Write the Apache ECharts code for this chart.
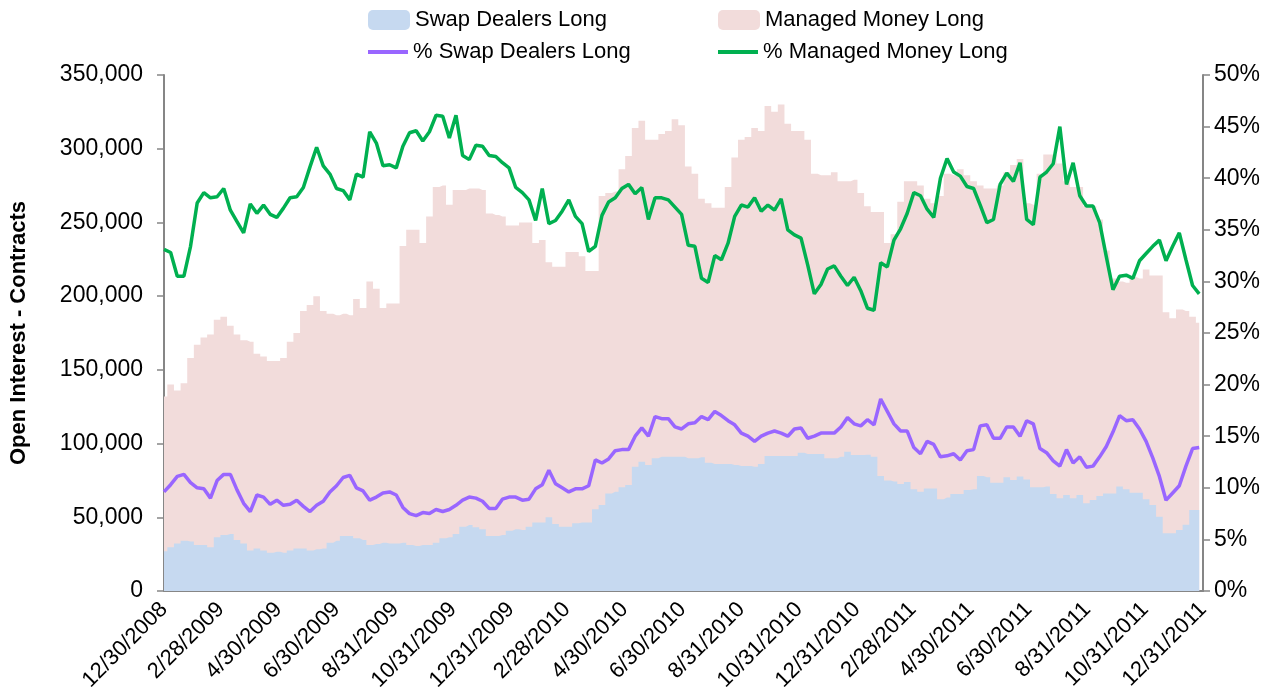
<!DOCTYPE html>
<html>
<head>
<meta charset="utf-8">
<script src="https://cdn.jsdelivr.net/npm/echarts@6/dist/echarts.min.js"></script>
<style>
  * { margin: 0; padding: 0; }
  html, body { width: 1282px; height: 700px; background: #fff; }
  #mychart { width: 1282px; height: 700px; }
</style>
</head>
<body>
<div id="mychart"></div>
<script>
// weekly reports, first one on 12/30/2008
const firstWeek = [2008, 11, 30];
const weekCount = 157;

const tickLabels = ['12/30/2008', '2/28/2009', '4/30/2009', '6/30/2009', '8/31/2009', '10/31/2009',
  '12/31/2009', '2/28/2010', '4/30/2010', '6/30/2010', '8/31/2010', '10/31/2010', '12/31/2010',
  '2/28/2011', '4/30/2011', '6/30/2011', '8/31/2011', '10/31/2011', '12/31/2011'];

// contracts
const swapDealersLong = [
  27000, 29600, 32300, 34100, 33500, 31200, 31200, 29600, 36400, 38000,
  38700, 34600, 32300, 27400, 28900, 27400, 26000, 26700, 26000, 27400,
  28900, 28900, 27400, 28300, 28900, 32800, 34000, 37300, 37300, 35700,
  34600, 31200, 31900, 32800, 32300, 32300, 32800, 31200, 30500, 31200,
  31200, 32800, 35700, 36400, 38700, 43600, 44800, 43200, 41800, 37300,
  37300, 38000, 40900, 41800, 41400, 43600, 46400, 46400, 50000, 45400,
  43600, 43600, 45900, 46400, 46400, 55400, 58300, 66200, 67400, 70300,
  71900, 84300, 87700, 85500, 90000, 91100, 91100, 91100, 91100, 90000,
  90000, 90700, 87000, 86100, 86100, 86100, 85500, 84800, 84800, 84300,
  86100, 91600, 91600, 91600, 91600, 91600, 93800, 92900, 92900, 92900,
  90000, 90000, 91100, 94500, 92200, 92200, 92500, 91100, 78000, 75000,
  74200, 72600, 74000, 69000, 67400, 69600, 69600, 62200, 63500, 65800,
  65800, 68500, 69000, 78000, 77100, 73500, 73500, 77100, 75300, 77600,
  75700, 70300, 70300, 70800, 65800, 62900, 65100, 62900, 65100, 59500,
  61700, 64400, 66200, 66200, 70800, 69000, 66700, 66700, 62200, 58300,
  50400, 39100, 39100, 41400, 45000, 54900, 54900
];

// top of the managed money area, contracts
const managedMoneyLong = [
  132000, 140000, 136000, 141000, 158000, 167000, 172000, 174000, 184000, 186000,
  180000, 174000, 170000, 169000, 161000, 159000, 156000, 156000, 158000, 169000,
  175000, 190000, 194000, 200000, 190000, 188000, 187000, 188000, 187000, 198000,
  192000, 210000, 205000, 192000, 195000, 195000, 234000, 245000, 245000, 236000,
  254000, 274000, 275000, 262000, 272000, 272000, 273000, 273000, 272000, 256000,
  255000, 254000, 248000, 248000, 250000, 250000, 236000, 238000, 223000, 220000,
  220000, 230000, 230000, 227000, 217000, 217000, 268000, 270000, 271000, 286000,
  295000, 314000, 319000, 306000, 306000, 310000, 312000, 320000, 316000, 288000,
  283000, 266000, 263000, 260000, 260000, 274000, 294000, 306000, 308000, 314000,
  312000, 329000, 325000, 330000, 317000, 312000, 312000, 306000, 283000, 282000,
  282000, 284000, 278000, 278000, 279000, 270000, 261000, 257000, 257000, 236000,
  242000, 264000, 278000, 278000, 275000, 266000, 263000, 268000, 283000, 282000,
  286000, 282000, 278000, 275000, 273000, 273000, 275000, 284000, 289000, 293000,
  263000, 262000, 283000, 296000, 296000, 290000, 278000, 274000, 274000, 261000,
  261000, 252000, 231000, 212000, 210000, 209000, 213000, 212000, 218000, 214000,
  214000, 189000, 185000, 191000, 190000, 186000, 182000
];

// percent
const pctSwapDealersLong = [
  9.6, 10.3, 11.1, 11.3, 10.5, 10.0, 9.9, 9.0, 10.7, 11.3,
  11.3, 9.8, 8.5, 7.7, 9.3, 9.1, 8.4, 8.8, 8.3, 8.4,
  8.8, 8.2, 7.7, 8.3, 8.7, 9.6, 10.2, 11.0, 11.2, 10.0,
  9.7, 8.8, 9.1, 9.5, 9.6, 9.3, 8.1, 7.5, 7.3, 7.6,
  7.5, 7.9, 7.7, 7.9, 8.3, 8.8, 9.1, 9.0, 8.7, 8.0,
  8.0, 8.9, 9.1, 9.1, 8.8, 8.9, 9.9, 10.3, 11.7, 10.4,
  10.0, 9.6, 9.9, 9.9, 10.2, 12.7, 12.4, 12.8, 13.6, 13.7,
  13.7, 15.0, 15.8, 15.0, 16.9, 16.7, 16.7, 15.9, 15.7, 16.2,
  16.3, 16.9, 16.6, 17.4, 17.0, 16.5, 16.1, 15.3, 15.0, 14.5,
  15.0, 15.3, 15.5, 15.3, 15.0, 15.7, 15.8, 14.8, 15.0, 15.3,
  15.3, 15.3, 15.9, 16.8, 16.2, 16.0, 16.6, 16.1, 18.6, 17.4,
  16.2, 15.5, 15.5, 13.9, 13.3, 14.5, 14.2, 13.0, 13.1, 13.3,
  12.7, 13.6, 13.7, 16.0, 16.1, 14.8, 14.8, 15.9, 15.9, 15.0,
  16.5, 16.2, 13.8, 13.4, 12.6, 12.1, 13.7, 12.4, 13.0, 12.0,
  12.1, 13.0, 14.0, 15.4, 17.0, 16.5, 16.6, 15.7, 14.5, 12.9,
  11.1, 8.8, 9.5, 10.2, 12.1, 13.8, 13.9
];

const pctManagedMoneyLong = [
  33.1, 32.8, 30.5, 30.5, 33.4, 37.6, 38.6, 38.1, 38.2, 39.0,
  36.9, 35.8, 34.7, 37.5, 36.6, 37.4, 36.5, 36.2, 37.1, 38.1,
  38.2, 39.1, 41.1, 43.0, 41.2, 40.4, 39.0, 38.8, 37.9, 40.4,
  40.1, 44.5, 43.4, 41.2, 41.3, 41.0, 43.1, 44.4, 44.6, 43.6,
  44.5, 46.1, 46.0, 43.9, 46.1, 42.2, 41.8, 43.2, 43.1, 42.2,
  42.1, 41.5, 41.0, 39.1, 38.6, 37.9, 35.9, 39.0, 35.6, 35.9,
  36.8, 37.9, 36.3, 35.6, 32.9, 33.4, 36.4, 37.7, 38.1, 39.0,
  39.4, 38.5, 39.1, 36.0, 38.1, 38.1, 37.9, 37.2, 36.5, 33.5,
  33.4, 30.3, 29.9, 32.5, 32.1, 33.7, 36.3, 37.4, 37.2, 38.1,
  36.8, 37.4, 36.9, 38.0, 35.0, 34.5, 34.2, 31.6, 28.8, 29.7,
  31.2, 31.5, 30.5, 29.6, 30.4, 29.1, 27.4, 27.2, 31.8, 31.4,
  34.0, 35.1, 36.6, 38.6, 38.3, 37.0, 36.2, 40.0, 41.9, 40.6,
  40.2, 39.2, 39.0, 37.4, 35.7, 36.0, 39.4, 40.5, 39.7, 41.5,
  36.0, 35.5, 40.1, 40.6, 41.4, 45.0, 39.4, 41.5, 38.3, 37.3,
  37.3, 35.7, 32.4, 29.2, 30.5, 30.6, 30.3, 32.0, 32.7, 33.4,
  34.0, 32.0, 33.4, 34.7, 32.1, 29.6, 28.8
];

function parseDate(s) {
  const p = s.split('/');
  return new Date(+p[2], +p[0] - 1, +p[1]).getTime();
}

const weeks = [];
for (let i = 0; i < weekCount; i++) {
  weeks.push(new Date(firstWeek[0], firstWeek[1], firstWeek[2] + 7 * i).getTime());
}
const pairs = (arr) => arr.map((v, i) => [weeks[i], v]);

const labelTimes = tickLabels.map(parseDate);
const font = "'Liberation Sans', Arial, sans-serif";
const axisGray = '#868686';

const chart = echarts.init(document.getElementById('mychart'));

function legendItem(name, left, top, isLine) {
  return {
    data: [name],
    left: left,
    top: top,
    padding: 0,
    icon: isLine ? 'rect' : 'roundRect',
    itemWidth: isLine ? 40 : 42,
    itemHeight: isLine ? 4 : 20,
    textStyle: { fontFamily: font, fontSize: 22, color: '#000' },
    selectedMode: false
  };
}

const option = {
  animation: false,
  backgroundColor: '#fff',
  textStyle: { fontFamily: font },
  legend: [
    legendItem('Swap Dealers Long', 368, 9, false),
    legendItem('Managed Money Long', 718, 9, false),
    legendItem('% Swap Dealers Long', 368, 41, true),
    legendItem('% Managed Money Long', 718, 41, true)
  ],
  grid: { left: 164, right: 79, top: 75, bottom: 109, containLabel: false },
  xAxis: {
    // dates as timestamps on a value axis so label positions can be given directly
    type: 'value',
    min: parseDate('12/30/2008'),
    max: parseDate('12/31/2011'),
    axisLine: { lineStyle: { color: axisGray, width: 2 } },
    axisTick: { show: false },
    splitLine: { show: false },
    axisLabel: {
      customValues: labelTimes,
      rotate: 45,
      margin: 15,
      fontFamily: font,
      fontSize: 22,
      color: '#000',
      hideOverlap: false,
      showMinLabel: true,
      showMaxLabel: true,
      formatter: function (v) {
        const d = new Date(v);
        return (d.getMonth() + 1) + '/' + d.getDate() + '/' + d.getFullYear();
      }
    }
  },
  yAxis: [
    {
      type: 'value',
      min: 0,
      max: 350000,
      interval: 50000,
      name: 'Open Interest - Contracts',
      nameLocation: 'middle',
      nameGap: 134,
      nameTextStyle: { fontFamily: font, fontSize: 22, fontWeight: 'bold', color: '#000' },
      axisLine: { show: true, lineStyle: { color: axisGray, width: 2 } },
      axisTick: { show: true, length: 7, lineStyle: { color: axisGray, width: 1.5 } },
      splitLine: { show: false },
      axisLabel: {
        margin: 21,
        fontFamily: font,
        fontSize: 23,
        color: '#000',
        formatter: (v) => v.toLocaleString('en-US')
      }
    },
    {
      type: 'value',
      min: 0,
      max: 50,
      interval: 5,
      position: 'right',
      axisLine: { show: true, lineStyle: { color: axisGray, width: 2 } },
      axisTick: { show: true, length: 7, lineStyle: { color: axisGray, width: 1.5 } },
      splitLine: { show: false },
      axisLabel: {
        margin: 11,
        fontFamily: font,
        fontSize: 23,
        color: '#000',
        formatter: '{value}%'
      }
    }
  ],
  series: [
    {
      name: 'Managed Money Long',
      type: 'line',
      step: 'middle',
      symbol: 'none',
      color: '#f2dcdb',
      lineStyle: { width: 0 },
      areaStyle: { color: '#f2dcdb', opacity: 1 },
      data: pairs(managedMoneyLong),
      z: 1
    },
    {
      name: 'Swap Dealers Long',
      type: 'line',
      step: 'middle',
      symbol: 'none',
      color: '#c6d9f0',
      lineStyle: { width: 0 },
      areaStyle: { color: '#c6d9f0', opacity: 1 },
      data: pairs(swapDealersLong),
      z: 2
    },
    {
      name: '% Swap Dealers Long',
      type: 'line',
      yAxisIndex: 1,
      symbol: 'none',
      color: '#9966ff',
      lineStyle: { width: 3.5, color: '#9966ff' },
      data: pairs(pctSwapDealersLong),
      z: 3
    },
    {
      name: '% Managed Money Long',
      type: 'line',
      yAxisIndex: 1,
      symbol: 'none',
      color: '#00b050',
      lineStyle: { width: 3.5, color: '#00b050' },
      data: pairs(pctManagedMoneyLong),
      z: 4
    }
  ]
};

chart.setOption(option);
</script>
</body>
</html>
